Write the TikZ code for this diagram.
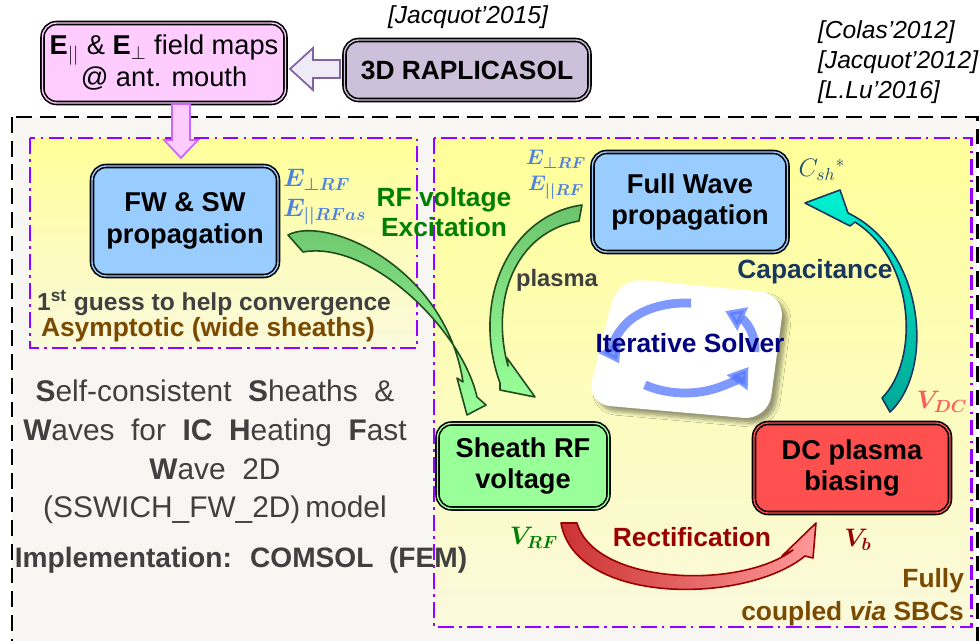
\documentclass[tikz,border=0pt]{standalone}
\usepackage{amsmath,bm}
\usepackage{fontspec}
\setmainfont{Liberation Sans}
\newfontfamily\widesans[WordSpace=2]{Liberation Sans}
\usetikzlibrary{arrows.meta,shadows.blur}

% colours
\definecolor{panelgray}{HTML}{F7F6F2}
\definecolor{zoneline}{HTML}{9900FF}
\definecolor{zonetop}{HTML}{FFFF99}
\definecolor{zonebot}{HTML}{FAF9DC}
\definecolor{wavefill}{HTML}{99CCFF}
\definecolor{sheathfill}{HTML}{99FF99}
\definecolor{dcfill}{HTML}{FF5050}
\definecolor{mapfill}{HTML}{FFCCFF}
\definecolor{mapline}{HTML}{CC66FF}
\definecolor{raplfill}{HTML}{CCC0DA}
\definecolor{feedfill}{HTML}{EEEAF6}
\definecolor{feedline}{HTML}{8064A2}
\definecolor{textgray}{HTML}{404040}
\definecolor{textbrown}{HTML}{7A4A00}
\definecolor{textgreen}{HTML}{008000}
\definecolor{fieldblue}{HTML}{4F81DF}
\definecolor{capblue}{HTML}{17375E}
\definecolor{cshblue}{HTML}{1F4E79}
\definecolor{vdcred}{HTML}{FF5B5B}
\definecolor{rectred}{HTML}{990000}
\definecolor{solverblue}{HTML}{000080}
\definecolor{loopblue}{HTML}{5577FF}
\definecolor{excitetop}{HTML}{6CC46C}
\definecolor{excitedark}{HTML}{1E4D1E}
\definecolor{captop}{HTML}{00F2D2}
\definecolor{capbot}{HTML}{00A896}

\tikzset{
  modelbox/.style={draw=black, line width=0.9pt, double=#1, double distance=0.8pt,
    fill=#1, rounded corners=8pt, align=center, inner sep=0pt,
    font=\fontsize{15.5}{18}\selectfont\bfseries},
  zonebox/.style={draw=zoneline, line width=1.7pt,
    dash pattern=on 9pt off 3pt on 1.5pt off 3pt,
    top color=zonetop, bottom color=zonebot},
  reftext/.style={font=\fontsize{14}{17}\selectfont\itshape, inner sep=1pt},
  lbl/.style={font=\fontsize{15}{18}\selectfont\bfseries, inner sep=1pt},
  mathlbl/.style={font=\fontsize{14}{17}\selectfont, inner sep=1pt},
  cyclearrow/.style={line width=5pt, loopblue, opacity=0.75,
    -{Triangle[width=14pt,length=11pt]}},
  bent/.style={line width=0.9pt, line join=round},
}

\begin{document}
\begin{tikzpicture}[x=0.02cm, y=-0.02cm]
  \useasboundingbox (0,0) rectangle (980,641);
  \clip (0,0) rectangle (980,641);
  \fill[white] (0,0) rectangle (980,641);

  % whole coupled model frame, then the two solver zones
  \draw[fill=panelgray, line width=1.7pt, dash pattern=on 9pt off 4.5pt] (12,117) rectangle (977,680);
  \draw[zonebox] (30,138) rectangle (417,348);
  \draw[zonebox] (434,138) rectangle (971,627);

  % models
  \node[modelbox=mapfill, minimum width=4.86cm, minimum height=1.6cm,
    font=\fontsize{15.5}{17}\selectfont] (maps) at (164,63)
    {\textbf{E}$_{||}$ \& \textbf{E}$_{\perp}$ field maps\\@ ant. mouth};
  \node[modelbox=raplfill, minimum width=4.9cm, minimum height=1.2cm,
    font=\fontsize{15}{18}\selectfont\bfseries] (rapl) at (467,70) {3D RAPLICASOL};
  \node[modelbox=wavefill, minimum width=3.72cm, minimum height=2.2cm] (fwsw) at (185,221) {FW \& SW\\propagation};
  \node[modelbox=wavefill, minimum width=3.9cm, minimum height=2.0cm] (fullwave) at (690,202) {Full Wave\\propagation};
  \node[modelbox=sheathfill, minimum width=3.42cm, minimum height=1.7cm] (sheath) at (523,466) {Sheath RF\\voltage};
  \node[modelbox=dcfill, minimum width=3.92cm, minimum height=1.8cm] (dcbias) at (852,468) {DC plasma\\biasing};

  % block arrows between the field maps
  \draw[fill=feedfill, draw=feedline, line width=1pt]
    (340,60) -- (313,60) -- (313,48) -- (290,69) -- (313,90) -- (313,78) -- (340,78) -- cycle;
  \draw[fill=mapfill, draw=mapline, line width=1pt]
    (172,104) -- (190,104) -- (190,140) -- (198,140) -- (181,158) -- (164,140) -- (172,140) -- cycle;

  % iterative solver tile
  \fill[white, rounded corners=14pt,
    blur shadow={shadow xshift=3pt, shadow yshift=-3pt, shadow blur steps=8}]
    (618,278) -- (785,294) -- (768,420) -- (586,404) -- cycle;
  \draw[cyclearrow] (685,348) ++(-85:70 and 45) arc[start angle=-85, end angle=-200, x radius=70, y radius=45];
  \draw[cyclearrow] (685,348) ++(-235:70 and 45) arc[start angle=-235, end angle=-335, x radius=70, y radius=45];
  \draw[cyclearrow] (685,348) ++(5:70 and 45) arc[start angle=5, end angle=-55, x radius=70, y radius=45];

  % RF voltage excitation (asymptotic)
  \draw[bent, draw=excitedark, top color=excitetop, bottom color=sheathfill]
    (288,235) .. controls (325,215) and (445,265) .. (463,382) -- (457,378) -- (467,415)
    -- (486,405) -- (477,397) .. controls (462,330) and (370,240) .. (303,252) -- cycle;
  % RF voltage excitation (full wave)
  \draw[bent, draw=excitedark, top color=excitetop, bottom color=sheathfill]
    (582,205) .. controls (510,215) and (470,300) .. (500,383) -- (500,390) -- (535,397)
    -- (507,358) -- (508,366) .. controls (490,300) and (515,232) .. (579,221) -- cycle;
  % capacitance
  \draw[bent, draw=capblue, top color=captop, bottom color=capbot]
    (890,412) .. controls (935,370) and (925,250) .. (848,213) -- (840,190) -- (805,203)
    -- (850,226) -- (855,222) .. controls (915,260) and (920,360) .. (882,398) -- cycle;
  % rectification
  \draw[bent, draw=rectred, left color=red!60!gray, right color=red!40]
    (561,523) .. controls (575,605) and (745,605) .. (805,556) -- (813,558) -- (816,523)
    -- (782,556) -- (793,550) .. controls (740,590) and (595,585) .. (577,523) -- cycle;

  % labels
  \node[reftext] (jac15) at (468,17) {[Jacquot’2015]};
  \node[reftext, anchor=west] (colas) at (816,32) {[Colas’2012]};
  \node[reftext, anchor=west] (jac12) at (816,62) {[Jacquot’2012]};
  \node[reftext, anchor=west] (lu16) at (816,92) {[L.Lu’2016]};

  \node[mathlbl, fieldblue, anchor=west] (eperpl) at (281,180) {$\bm{E_{\perp RF}}$};
  \node[mathlbl, fieldblue, anchor=west] (eparl) at (281,212) {$\bm{E_{||RFas}}$};
  \node[mathlbl, fieldblue, font=\fontsize{13}{15}\selectfont] (eperpr) at (556,159) {$\bm{E_{\perp RF}}$};
  \node[mathlbl, fieldblue, font=\fontsize{13}{15}\selectfont] (eparr) at (556,188) {$\bm{E_{||RF}}$};
  \node[mathlbl, cshblue] (csh) at (822,170) {$C_{sh}{}^{*}$};
  \node[mathlbl, vdcred] (vdc) at (942,402) {$\bm{V_{DC}}$};
  \node[mathlbl, textgreen] (vrf) at (534,538) {$\bm{V_{RF}}$};
  \node[mathlbl, rectred] (vb) at (858,540) {$\bm{V_b}$};

  \node[lbl, textgreen, align=center, font=\fontsize{15}{17.5}\selectfont\bfseries] (rfexc) at (444,212) {RF voltage\\Excitation};
  \node[lbl, textgray, font=\fontsize{13.5}{16}\selectfont\bfseries] (plasma) at (557,280) {plasma};
  \node[lbl, capblue] (capa) at (815,272) {Capacitance};
  \node[lbl, solverblue] (solver) at (690,343) {Iterative Solver};
  \node[lbl, rectred] (rectif) at (692,537) {Rectification};
  \node[lbl, textbrown, align=right, anchor=east, font=\fontsize{15}{18.7}\selectfont\bfseries] (coupled) at (966,597) {Fully\\coupled \textit{via} SBCs};

  \node[lbl, textgray, font=\fontsize{14}{17}\selectfont\bfseries] (guess) at (214,303) {1\textsuperscript{st} guess to help convergence};
  \node[lbl, textbrown] (asympt) at (208,330) {Asymptotic (wide sheaths)};

  \node[textgray, align=center, font=\widesans\fontsize{17}{22}\selectfont] (model) at (215,452)
    {\textbf{S}elf-consistent \textbf{S}heaths \&\\\textbf{W}aves for \textbf{IC H}eating \textbf{F}ast\\\textbf{W}ave 2D\\(SSWICH\_FW\_2D)\,model};
  \node[textgray, font=\widesans\fontsize{16}{19}\selectfont\bfseries] (impl) at (241,560) {Implementation: COMSOL (FEM)};
\end{tikzpicture}
\end{document}
